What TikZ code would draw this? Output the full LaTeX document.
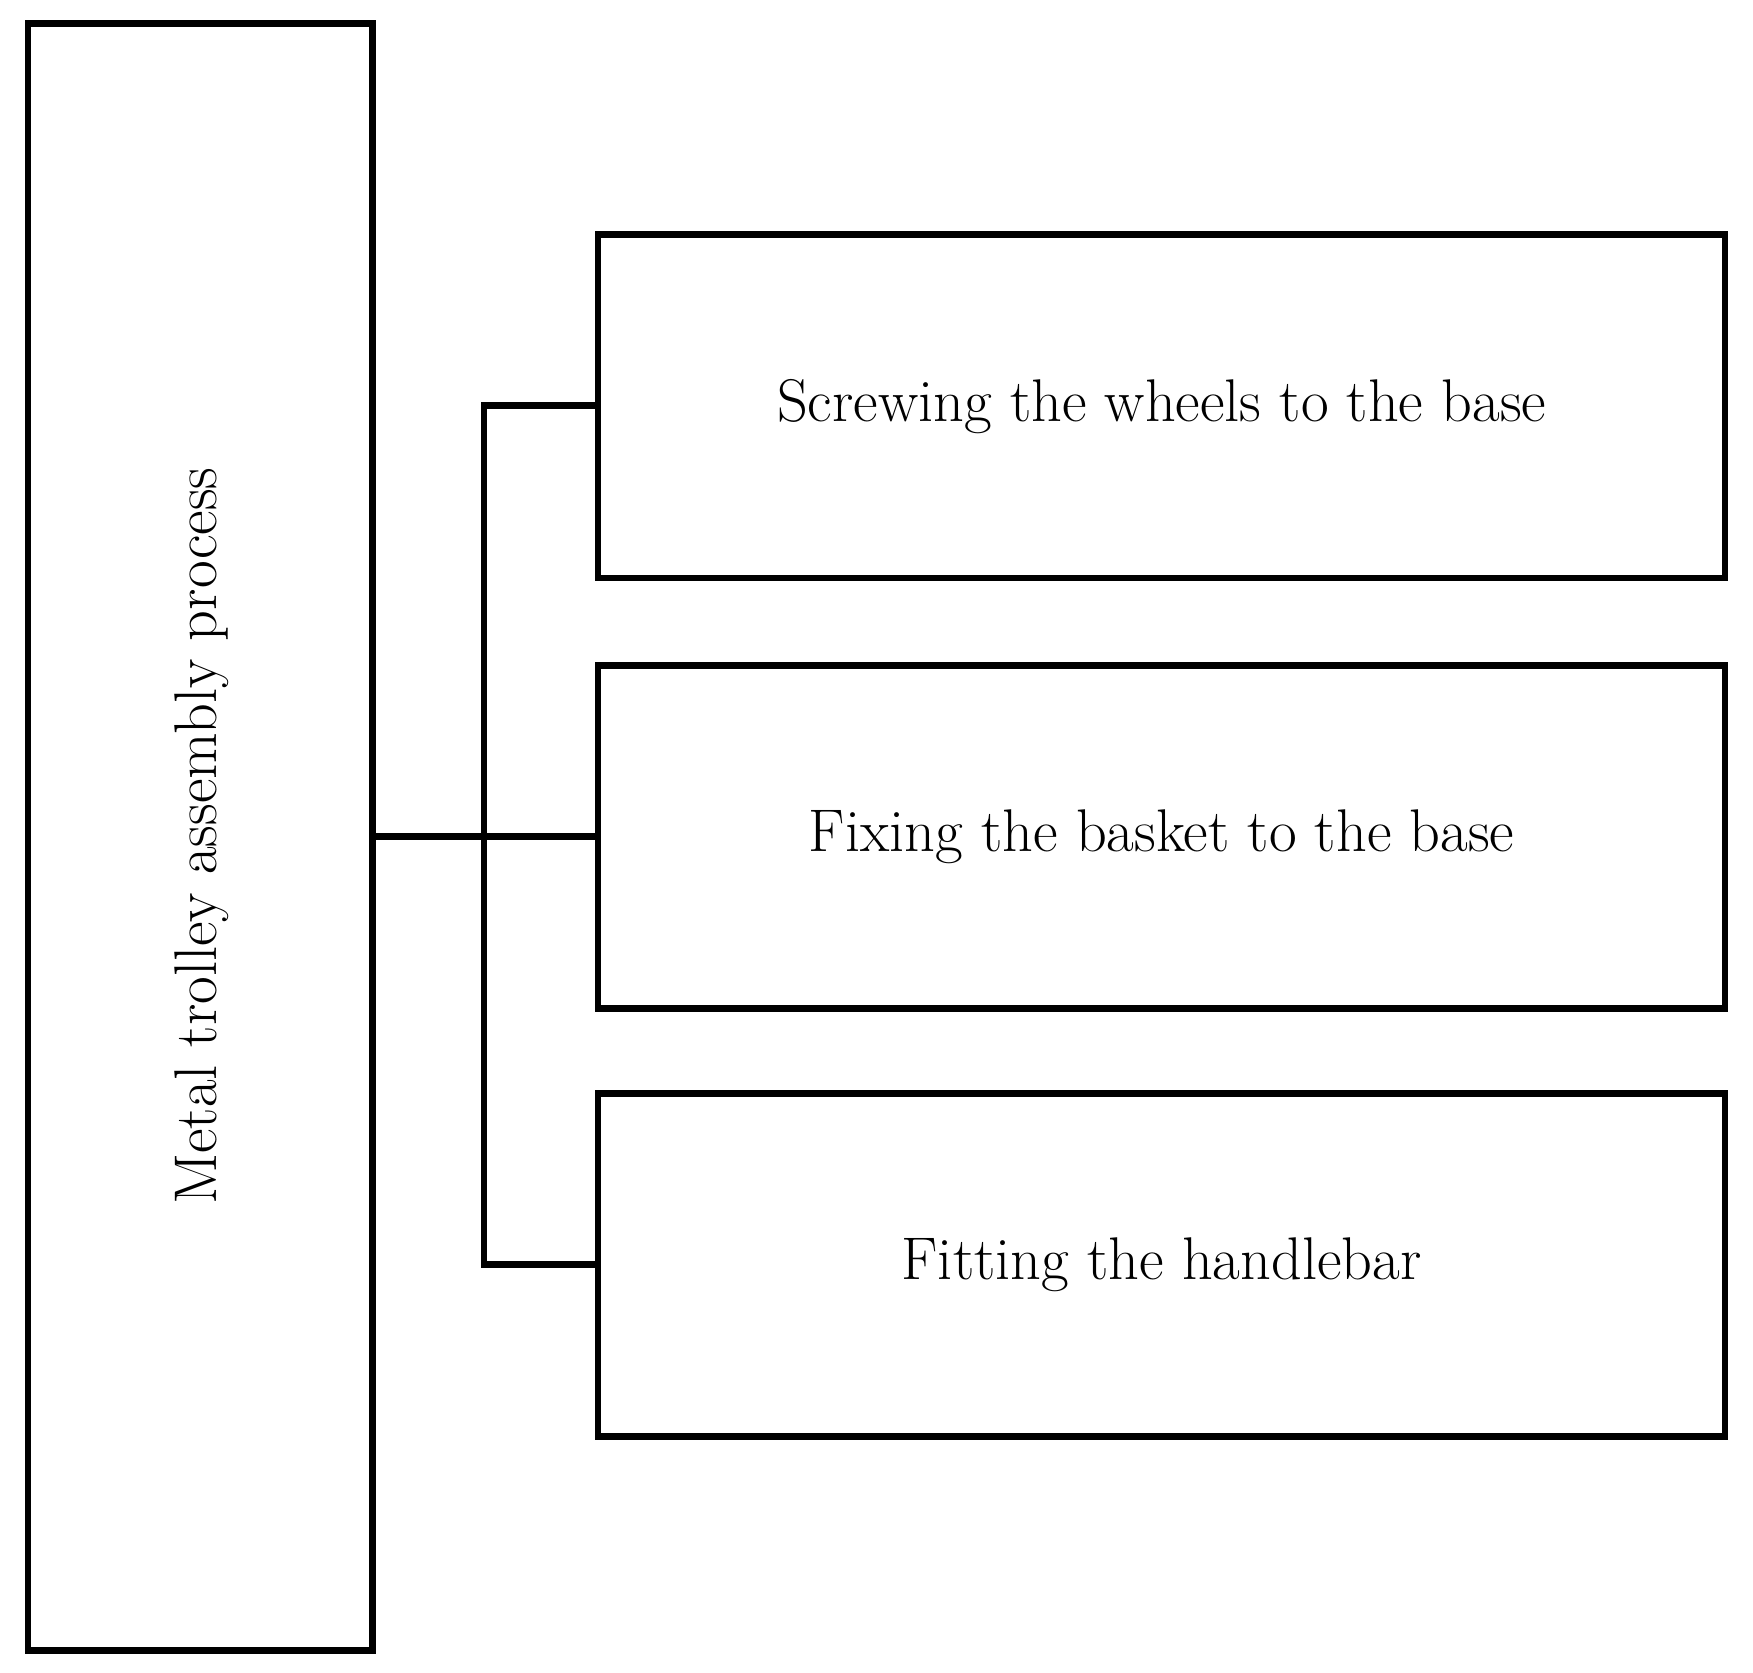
\documentclass[tikz,border=0pt]{standalone}
\begin{document}
\begin{tikzpicture}[x=0.03cm,y=-0.03cm,
  box/.style={draw,line width=0.18cm,rectangle,inner sep=0pt,anchor=north west},
  lbl/.style={font=\fontsize{46}{54}\selectfont},
  con/.style={line width=0.18cm}]
\useasboundingbox (0,0) rectangle (1568,1496);
\node[box,minimum width=9.24cm,minimum height=43.65cm] (main) at (22,18) {};
\node[lbl,rotate=90] (mt) at (180,748) {Metal trolley assembly process};
\node[box,minimum width=30.24cm,minimum height=9.21cm] (a) at (532,207) {};
\node[box,minimum width=30.24cm,minimum height=9.21cm] (b) at (532,592) {};
\node[box,minimum width=30.24cm,minimum height=9.21cm] (c) at (532,975) {};
\node[lbl] at (a.center) {Screwing the wheels to the base};
\node[lbl] at (b.center) {Fixing the basket to the base};
\node[lbl] at (c.center) {Fitting the handlebar};
\coordinate (j1) at (433,363);
\coordinate (j3) at (433,1131);
\draw[con] (main.east) -- (main.east -| b.west);
\draw[con] (j1 -| a.west) -- (j1) -- (j3) -- (j3 -| c.west);
\end{tikzpicture}
\end{document}
